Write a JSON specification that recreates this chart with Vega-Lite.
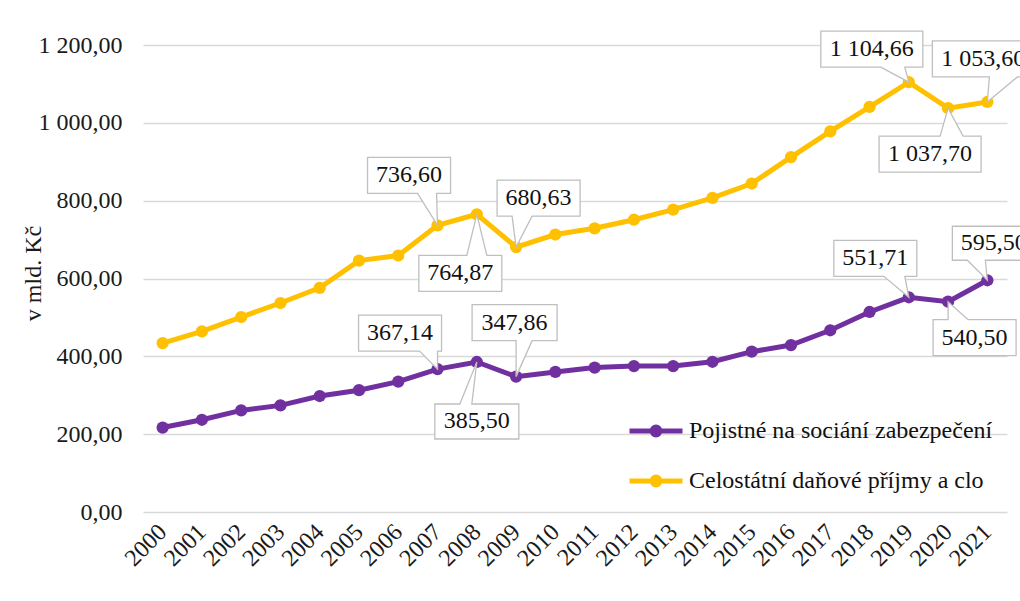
{
  "$schema": "https://vega.github.io/schema/vega-lite/v6.json",
  "width": 864,
  "height": 467,
  "autosize": {"type": "none"},
  "padding": {"left": 143, "top": 45, "right": 13, "bottom": 89},
  "background": "white",
  "config": {
    "locale": {"number": {"decimal": ",", "thousands": " ", "grouping": [3], "currency": ["", " Kč"]}},
    "font": "Liberation Serif",
    "view": {"stroke": null},
    "axis": {"labelFont": "Liberation Serif", "labelFontSize": 24, "labelColor": "#1a1a1a", "titleFont": "Liberation Serif", "titleFontSize": 24, "titleFontWeight": "normal", "titleColor": "#1a1a1a"},
    "point": {"filled": true, "fill": "white", "stroke": "#bfbfbf", "strokeWidth": 1.3, "opacity": 1, "size": 4},
    "text": {"font": "Liberation Serif", "fontSize": 24, "color": "#111111", "align": "center", "baseline": "middle"},
    "legend": {"labelFont": "Liberation Serif", "labelFontSize": 24, "labelColor": "#111111", "padding": 0, "labelLimit": 500}
  },
  "data": {"values": [
    {"year": "2000", "series": "Celostátní daňové příjmy a clo", "value": 434},
    {"year": "2001", "series": "Celostátní daňové příjmy a clo", "value": 464},
    {"year": "2002", "series": "Celostátní daňové příjmy a clo", "value": 501},
    {"year": "2003", "series": "Celostátní daňové příjmy a clo", "value": 537},
    {"year": "2004", "series": "Celostátní daňové příjmy a clo", "value": 576},
    {"year": "2005", "series": "Celostátní daňové příjmy a clo", "value": 646},
    {"year": "2006", "series": "Celostátní daňové příjmy a clo", "value": 659},
    {"year": "2007", "series": "Celostátní daňové příjmy a clo", "value": 736.6},
    {"year": "2008", "series": "Celostátní daňové příjmy a clo", "value": 764.87},
    {"year": "2009", "series": "Celostátní daňové příjmy a clo", "value": 680.63},
    {"year": "2010", "series": "Celostátní daňové příjmy a clo", "value": 713},
    {"year": "2011", "series": "Celostátní daňové příjmy a clo", "value": 729},
    {"year": "2012", "series": "Celostátní daňové příjmy a clo", "value": 751},
    {"year": "2013", "series": "Celostátní daňové příjmy a clo", "value": 777},
    {"year": "2014", "series": "Celostátní daňové příjmy a clo", "value": 807},
    {"year": "2015", "series": "Celostátní daňové příjmy a clo", "value": 844},
    {"year": "2016", "series": "Celostátní daňové příjmy a clo", "value": 912},
    {"year": "2017", "series": "Celostátní daňové příjmy a clo", "value": 978},
    {"year": "2018", "series": "Celostátní daňové příjmy a clo", "value": 1041},
    {"year": "2019", "series": "Celostátní daňové příjmy a clo", "value": 1104.66},
    {"year": "2020", "series": "Celostátní daňové příjmy a clo", "value": 1037.7},
    {"year": "2021", "series": "Celostátní daňové příjmy a clo", "value": 1053.6},
    {"year": "2000", "series": "Pojistné na sociání zabezpečení", "value": 217},
    {"year": "2001", "series": "Pojistné na sociání zabezpečení", "value": 237},
    {"year": "2002", "series": "Pojistné na sociání zabezpečení", "value": 261},
    {"year": "2003", "series": "Pojistné na sociání zabezpečení", "value": 274},
    {"year": "2004", "series": "Pojistné na sociání zabezpečení", "value": 298},
    {"year": "2005", "series": "Pojistné na sociání zabezpečení", "value": 313},
    {"year": "2006", "series": "Pojistné na sociání zabezpečení", "value": 335},
    {"year": "2007", "series": "Pojistné na sociání zabezpečení", "value": 367.14},
    {"year": "2008", "series": "Pojistné na sociání zabezpečení", "value": 385.5},
    {"year": "2009", "series": "Pojistné na sociání zabezpečení", "value": 347.86},
    {"year": "2010", "series": "Pojistné na sociání zabezpečení", "value": 360},
    {"year": "2011", "series": "Pojistné na sociání zabezpečení", "value": 371},
    {"year": "2012", "series": "Pojistné na sociání zabezpečení", "value": 375},
    {"year": "2013", "series": "Pojistné na sociání zabezpečení", "value": 375},
    {"year": "2014", "series": "Pojistné na sociání zabezpečení", "value": 386},
    {"year": "2015", "series": "Pojistné na sociání zabezpečení", "value": 412},
    {"year": "2016", "series": "Pojistné na sociání zabezpečení", "value": 429},
    {"year": "2017", "series": "Pojistné na sociání zabezpečení", "value": 467},
    {"year": "2018", "series": "Pojistné na sociání zabezpečení", "value": 514},
    {"year": "2019", "series": "Pojistné na sociání zabezpečení", "value": 551.71},
    {"year": "2020", "series": "Pojistné na sociání zabezpečení", "value": 540.5},
    {"year": "2021", "series": "Pojistné na sociání zabezpečení", "value": 595.5}
  ]},
  "encoding": {
    "x": {"field": "year", "type": "ordinal", "scale": {"type": "point", "padding": 0.5},
      "axis": {"title": null, "labelAngle": -45, "labelAlign": "right", "labelBaseline": "middle", "labelPadding": 16, "ticks": false, "domain": false, "grid": false}},
    "y": {"field": "value", "type": "quantitative", "scale": {"domain": [0, 1200], "nice": false},
      "axis": {"title": "v mld. Kč", "values": [0, 200, 400, 600, 800, 1000, 1200], "format": ",.2f", "ticks": false, "domain": false, "grid": true, "gridColor": "#d9d9d9", "gridWidth": 1.5, "labelPadding": 21, "titleX": -110, "titleY": 228, "titleAngle": -90, "titleAlign": "center", "titleBaseline": "middle"}}
  },
  "layer": [
    {"mark": {"type": "line", "strokeWidth": 5},
     "encoding": {"color": {"field": "series", "type": "nominal",
       "scale": {"domain": ["Pojistné na sociání zabezpečení", "Celostátní daňové příjmy a clo"], "range": ["#7030A0", "#FFC000"]},
       "legend": {"title": null, "orient": "none", "legendX": 484, "legendY": 357, "symbolType": "M -1 0 L 1 0 M 0.15 0 A 0.15 0.15 0 1 1 -0.15 0 A 0.15 0.15 0 1 1 0.15 0 Z", "symbolSize": 2809, "symbolStrokeWidth": 5, "labelOffset": 4, "rowPadding": 7}}}},
    {"mark": {"type": "circle", "size": 150, "opacity": 1},
     "encoding": {"color": {"field": "series", "type": "nominal"}}},
    {"transform": [{"filter": "datum.value == 736.6"}], "layer": [
      {"mark": {"type": "point", "shape": "M -70 -68 L 13 -68 L 13 -32 L -1 -32 L 0 0 L -20 -32 L -70 -32 Z"}},
      {"mark": {"type": "text", "dx": -28.5, "dy": -50}, "encoding": {"text": {"field": "value", "type": "quantitative", "format": ",.2f"}}}]},
    {"transform": [{"filter": "datum.value == 764.87"}], "layer": [
      {"mark": {"type": "point", "shape": "M -58 41 L -10 41 L 0 0 L 10 41 L 25 41 L 25 77 L -58 77 Z"}},
      {"mark": {"type": "text", "dx": -16.5, "dy": 59}, "encoding": {"text": {"field": "value", "type": "quantitative", "format": ",.2f"}}}]},
    {"transform": [{"filter": "datum.value == 680.63"}], "layer": [
      {"mark": {"type": "point", "shape": "M -19 -67 L 64 -67 L 64 -31 L 16 -31 L 0 0 L -4 -31 L -19 -31 Z"}},
      {"mark": {"type": "text", "dx": 22.5, "dy": -49}, "encoding": {"text": {"field": "value", "type": "quantitative", "format": ",.2f"}}}]},
    {"transform": [{"filter": "datum.value == 1104.66"}], "layer": [
      {"mark": {"type": "point", "shape": "M -88 -51 L 14 -51 L 14 -15 L -4 -15 L 0 0 L -28 -15 L -88 -15 Z"}},
      {"mark": {"type": "text", "dx": -37, "dy": -33}, "encoding": {"text": {"field": "value", "type": "quantitative", "format": ",.2f"}}}]},
    {"transform": [{"filter": "datum.value == 1037.7"}], "layer": [
      {"mark": {"type": "point", "shape": "M -69 28 L -8 28 L 0 0 L 15 28 L 33 28 L 33 64 L -69 64 Z"}},
      {"mark": {"type": "text", "dx": -18, "dy": 46}, "encoding": {"text": {"field": "value", "type": "quantitative", "format": ",.2f"}}}]},
    {"transform": [{"filter": "datum.value == 1053.6"}], "layer": [
      {"mark": {"type": "point", "shape": "M -55 -61 L 47 -61 L 47 -25 L 30 -25 L 0 0 L 2 -25 L -55 -25 Z"}},
      {"mark": {"type": "text", "dx": -4, "dy": -43}, "encoding": {"text": {"field": "value", "type": "quantitative", "format": ",.2f"}}}]},
    {"transform": [{"filter": "datum.value == 367.14"}], "layer": [
      {"mark": {"type": "point", "shape": "M -79 -54 L 4 -54 L 4 -18 L 0 -18 L 0 0 L -18 -18 L -79 -18 Z"}},
      {"mark": {"type": "text", "dx": -37.5, "dy": -36}, "encoding": {"text": {"field": "value", "type": "quantitative", "format": ",.2f"}}}]},
    {"transform": [{"filter": "datum.value == 385.5"}], "layer": [
      {"mark": {"type": "point", "shape": "M -42 42 L -17 42 L 0 0 L -5 42 L 42 42 L 42 77 L -42 77 Z"}},
      {"mark": {"type": "text", "dx": 0, "dy": 59.5}, "encoding": {"text": {"field": "value", "type": "quantitative", "format": ",.2f"}}}]},
    {"transform": [{"filter": "datum.value == 347.86"}], "layer": [
      {"mark": {"type": "point", "shape": "M -44 -72 L 41 -72 L 41 -36 L 16 -36 L 0 0 L 0 -36 L -44 -36 Z"}},
      {"mark": {"type": "text", "dx": -1.5, "dy": -54}, "encoding": {"text": {"field": "value", "type": "quantitative", "format": ",.2f"}}}]},
    {"transform": [{"filter": "datum.value == 551.71"}], "layer": [
      {"mark": {"type": "point", "shape": "M -75 -57 L 8 -57 L 8 -21 L -4 -21 L 0 0 L -25 -21 L -75 -21 Z"}},
      {"mark": {"type": "text", "dx": -33.5, "dy": -39}, "encoding": {"text": {"field": "value", "type": "quantitative", "format": ",.2f"}}}]},
    {"transform": [{"filter": "datum.value == 540.5"}], "layer": [
      {"mark": {"type": "point", "shape": "M -15 18 L 0 18 L 0 0 L 20 18 L 68 18 L 68 54 L -15 54 Z"}},
      {"mark": {"type": "text", "dx": 26.5, "dy": 36}, "encoding": {"text": {"field": "value", "type": "quantitative", "format": ",.2f"}}}]},
    {"transform": [{"filter": "datum.value == 595.5"}], "layer": [
      {"mark": {"type": "point", "shape": "M -35 -54 L 48 -54 L 48 -20 L -2 -20 L 0 0 L -20 -20 L -35 -20 Z"}},
      {"mark": {"type": "text", "dx": 6.5, "dy": -37}, "encoding": {"text": {"field": "value", "type": "quantitative", "format": ",.2f"}}}]}
  ]
}
